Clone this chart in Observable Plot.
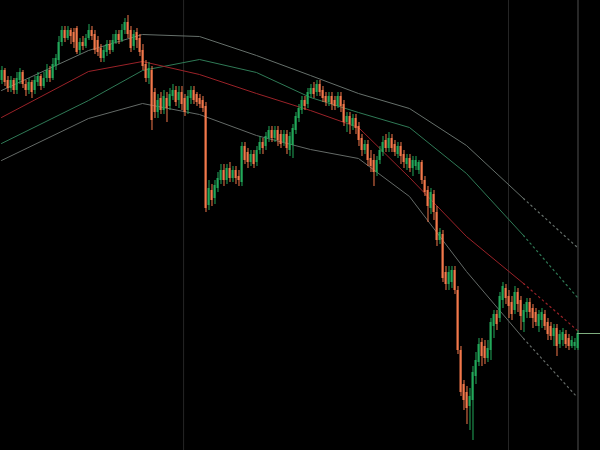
<!DOCTYPE html>
<html>
<head>
<meta charset="utf-8">
<script src="https://cdn.jsdelivr.net/npm/d3@7"></script>
<script src="https://cdn.jsdelivr.net/npm/@observablehq/plot@0.6"></script>
<style>
  html, body { margin: 0; padding: 0; background: #000; }
  #chart svg { display: block; }
</style>
</head>
<body>
<div id="chart"></div>
<script>
// ---- candle data (one bar per index) ----
const openP = [
1920,1930,1920,1912,1920,1910,1920,1928,1916,1910,
1918,1910,1918,1924,1914,1922,1930,1922,1934,1940,
1958,1970,1962,1970,1968,1972,1950,1958,1954,1962,
1970,1966,1960,1952,1942,1948,1956,1950,1958,1966,
1960,1970,1978,1970,1954,1968,1962,1950,1936,1922,
1930,1908,1888,1902,1890,1902,1894,1904,1910,1900,
1908,1902,1890,1902,1910,1906,1902,1900,1894,1795,
1810,1802,1812,1820,1830,1820,1832,1822,1830,1824,
1818,1854,1848,1838,1846,1838,1850,1858,1854,1862,
1870,1862,1870,1866,1858,1866,1850,1855,1870,1882,
1890,1900,1896,1906,1912,1908,1916,1910,1904,1898,
1904,1900,1894,1904,1896,1878,1884,1874,1882,1874,
1862,1850,1856,1842,1840,1828,1840,1848,1860,1852,
1862,1856,1846,1854,1846,1836,1842,1832,1834,1830,
1838,1820,1810,1792,1806,1788,1760,1766,1728,1716,
1718,1730,1710,1650,1616,1608,1594,1600,1624,1638,
1658,1654,1642,1650,1674,1686,1682,1700,1712,1704,
1698,1690,1708,1700,1678,1688,1698,1692,1688,1674,
1680,1686,1678,1674,1664,1672,1656,1660,1666,1662,
1654,1654,1652];
const closeP = [
1930,1918,1912,1920,1910,1922,1928,1916,1910,1918,
1908,1920,1924,1914,1922,1930,1922,1936,1942,1958,
1970,1962,1970,1964,1958,1948,1958,1954,1962,1970,
1964,1950,1948,1942,1950,1956,1950,1960,1966,1960,
1970,1978,1966,1952,1966,1960,1948,1934,1922,1932,
1880,1888,1900,1890,1904,1892,1906,1910,1898,1908,
1896,1888,1904,1910,1900,1898,1896,1892,1792,1812,
1800,1815,1822,1830,1820,1832,1822,1830,1822,1820,
1854,1840,1838,1846,1836,1850,1858,1852,1864,1870,
1862,1870,1860,1856,1866,1852,1864,1872,1884,1892,
1900,1894,1908,1912,1906,1916,1908,1902,1898,1904,
1896,1894,1904,1894,1878,1884,1876,1882,1872,1860,
1850,1856,1840,1834,1828,1840,1850,1858,1852,1862,
1852,1848,1854,1844,1838,1842,1832,1840,1840,1838,
1820,1808,1794,1808,1788,1760,1768,1722,1716,1728,
1730,1710,1650,1608,1600,1592,1604,1628,1640,1656,
1644,1642,1652,1678,1686,1676,1704,1714,1702,1694,
1686,1708,1696,1684,1690,1698,1688,1682,1678,1686,
1688,1674,1666,1664,1672,1654,1666,1668,1656,1654,
1660,1658,1667];
const highP = [
1934,1932,1924,1924,1922,1928,1932,1930,1920,1922,
1920,1924,1928,1926,1928,1936,1934,1942,1946,1964,
1974,1974,1974,1972,1972,1974,1962,1964,1966,1976,
1974,1970,1964,1956,1954,1960,1960,1966,1970,1970,
1976,1982,1985,1974,1970,1972,1966,1956,1940,1938,
1934,1912,1906,1908,1910,1908,1912,1916,1914,1914,
1914,1906,1910,1914,1914,1908,1906,1904,1898,1820,
1816,1820,1828,1836,1836,1836,1838,1834,1834,1830,
1858,1858,1852,1850,1850,1854,1864,1862,1868,1874,
1874,1874,1874,1870,1870,1870,1868,1876,1888,1896,
1904,1904,1912,1916,1918,1920,1920,1914,1908,1908,
1908,1904,1908,1908,1900,1888,1888,1886,1886,1878,
1866,1860,1860,1850,1846,1844,1854,1864,1866,1868,
1866,1860,1858,1858,1850,1846,1846,1844,1844,1840,
1840,1824,1814,1812,1810,1794,1772,1770,1734,1734,
1734,1734,1714,1654,1620,1614,1612,1634,1648,1662,
1662,1660,1660,1682,1690,1690,1708,1718,1716,1710,
1704,1714,1712,1704,1696,1702,1702,1696,1692,1690,
1692,1690,1682,1678,1676,1676,1670,1672,1670,1666,
1664,1662,1670];
const lowP = [
1916,1914,1908,1908,1906,1906,1916,1912,1904,1906,
1902,1906,1914,1910,1912,1918,1918,1920,1930,1936,
1954,1958,1960,1956,1952,1946,1946,1950,1952,1960,
1960,1946,1944,1938,1938,1944,1946,1948,1956,1956,
1958,1966,1962,1948,1950,1952,1944,1930,1918,1916,
1870,1882,1882,1886,1886,1878,1890,1900,1894,1892,
1890,1884,1886,1896,1896,1894,1892,1888,1788,1790,
1794,1796,1808,1816,1814,1816,1818,1818,1816,1814,
1814,1836,1832,1834,1832,1834,1846,1846,1850,1858,
1858,1858,1854,1852,1854,1846,1844,1842,1866,1878,
1886,1890,1892,1902,1902,1904,1904,1898,1894,1894,
1890,1890,1892,1888,1874,1868,1866,1870,1866,1854,
1844,1846,1834,1828,1814,1824,1836,1844,1848,1848,
1848,1844,1842,1836,1832,1830,1828,1824,1830,1826,
1816,1804,1778,1786,1780,1754,1756,1718,1710,1710,
1712,1706,1646,1604,1590,1576,1570,1560,1616,1634,
1634,1636,1638,1640,1662,1670,1678,1692,1696,1682,
1680,1686,1688,1670,1668,1682,1682,1672,1674,1668,
1672,1670,1660,1660,1654,1644,1652,1654,1652,1650,
1652,1650,1650];

// ---- higher-timeframe envelope lines (vertex bar index, values) ----
const bandIdx     = [0, 29, 47, 66, 85, 103, 119, 136, 155, 174, 192];
const upperOuter  = [1910,1950,1966,1964,1945,1925,1907,1892,1855,1802,1753];
const upperInner  = [1857,1900,1930,1941,1928,1903,1888,1873,1827,1765,1703];
const middleMA    = [1883,1929,1939,1926,1907,1890,1873,1823,1764,1717,1670];
const lowerOuter  = [1840,1882,1897,1886,1865,1851,1842,1804,1729,1662,1603];
const projectFrom = 174; // last completed vertex; beyond it the line is dotted

const sessionBreaks = [60.7, 169];
const currentBar = [192];
const lastPrice = 1667;

const UP = "#22a85a", DOWN = "#f2784b";

const candles = closeP.map((c, i) => ({
  i, o: openP[i], h: highP[i], l: lowP[i], c, col: c >= openP[i] ? UP : DOWN
}));

const series = [
  {name: "upperOuter", vals: upperOuter, color: "#66706b"},
  {name: "upperInner", vals: upperInner, color: "#2f7a56"},
  {name: "middle",     vals: middleMA,   color: "#9a2228"},
  {name: "lowerOuter", vals: lowerOuter, color: "#646a67"}
];
const solid = [], dotted = [];
for (const s of series) {
  bandIdx.forEach((x, k) => {
    const p = {x, y: s.vals[k], name: s.name, color: s.color};
    if (x <= projectFrom) solid.push(p);
    if (x >= projectFrom) dotted.push(p);
  });
}

const chart = Plot.plot({
  width: 600,
  height: 450,
  margin: 0,
  style: {background: "#000", overflow: "hidden"},
  x: {domain: [-1/3, 199.67], axis: null},
  y: {domain: [1550, 2000], axis: null},
  color: {type: "identity"},
  marks: [
    Plot.ruleX(sessionBreaks, {x: d => d, stroke: "#262626", strokeWidth: 1}),
    Plot.ruleX(currentBar, {x: d => d, dx: 0.5, stroke: "#353535", strokeWidth: 1.5}),
    Plot.line(solid, {x: "x", y: "y", z: "name", stroke: "color", strokeWidth: 1}),
    Plot.line(dotted, {x: "x", y: "y", z: "name", stroke: "color", strokeWidth: 1.2, strokeDasharray: "1.5,3.5"}),
    Plot.ruleX(candles, {x: "i", y1: "l", y2: "h", stroke: "col", strokeWidth: 1, dx: 0.5}),
    Plot.ruleX(candles, {x: "i", y1: "o", y2: "c", stroke: "col", strokeWidth: 2}),
    Plot.ruleY([lastPrice], {y: d => d, x1: 192, x2: 199.67, stroke: "#7fae7f", strokeWidth: 1})
  ]
});
document.getElementById("chart").appendChild(chart);
</script>
</body>
</html>
